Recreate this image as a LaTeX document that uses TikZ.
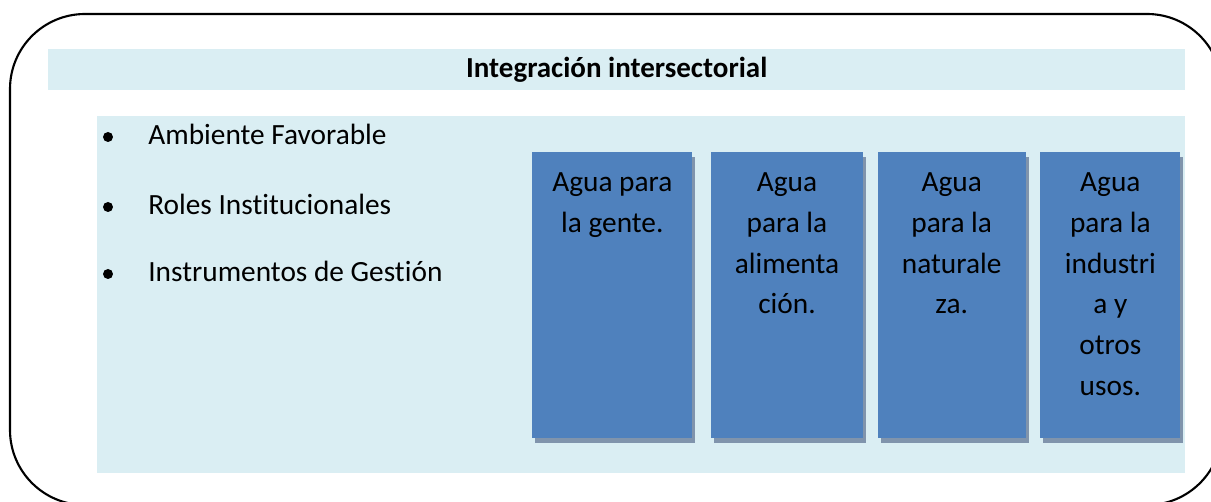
\documentclass[tikz,border=0pt]{standalone}
\usepackage{fontspec}
\setmainfont{Carlito}[Ligatures=NoCommon]
\usetikzlibrary{positioning,shadows}
\definecolor{panelblue}{HTML}{DAEEF3}
\definecolor{colblue}{HTML}{4F81BD}
\definecolor{shadowblue}{RGB}{128,148,172}

\begin{document}
\begin{tikzpicture}[x=0.02cm,y=-0.02cm,
	band/.style={fill=panelblue,inner sep=0pt,anchor=north west},
	watercol/.style={rectangle,fill=colblue,inner sep=0pt,minimum height=5.72cm,anchor=north west,
		drop shadow={shadow xshift=0.06cm,shadow yshift=-0.1cm,fill=shadowblue,opacity=1}},
	coltext/.style={align=center,inner sep=0pt,font=\fontsize{16.7}{23.3}\selectfont},
	item/.style={anchor=base west,inner sep=0pt,font=\fontsize{16.7}{20}\selectfont},
	dot/.style={circle,fill=black,inner sep=0pt,minimum size=0.2cm}]
	\useasboundingbox (0,0) rectangle (1211,502);
	\clip (0,0) rectangle (1211,502);
	\draw[line width=1.2pt,rounded corners=1.5cm] (10,14) rectangle (1222,505);
	\node[band,minimum width=22.74cm,minimum height=0.82cm] (banda) at (48,49) {};
	\node[font=\fontsize{16.5}{20}\selectfont\bfseries] (titulo) at (banda.center) {Integración intersectorial};
	\node[band,minimum width=21.76cm,minimum height=7.14cm] (panel) at (97,116) {};
	\node[dot] (d1) at (108,137) {};
	\node[dot] (d2) at (108,207) {};
	\node[dot] (d3) at (108,274) {};
	\node[item] (ambiente) at (148,145) {Ambiente Favorable};
	\node[item] (roles) at (148,215) {Roles Institucionales};
	\node[item] (instrumentos) at (148,282) {Instrumentos de Gestión};
	\node[watercol,minimum width=3.2cm] (gente) at (532,152) {};
	\node[watercol,minimum width=3.04cm,right=0.36cm of gente] (alimento) {};
	\node[watercol,minimum width=2.96cm,right=0.28cm of alimento] (naturaleza) {};
	\node[watercol,minimum width=2.8cm,right=0.28cm of naturaleza] (industria) {};
	\node[coltext,below=0.4cm of gente.north] (t1) {Agua para\\la gente.};
	\node[coltext,below=0.4cm of alimento.north] (t2) {Agua\\para la\\alimenta\\ción.};
	\node[coltext,below=0.4cm of naturaleza.north] (t3) {Agua\\para la\\naturale\\za.};
	\node[coltext,below=0.4cm of industria.north] (t4) {Agua\\para la\\industri\\a y\\otros\\usos.};
\end{tikzpicture}
\end{document}
